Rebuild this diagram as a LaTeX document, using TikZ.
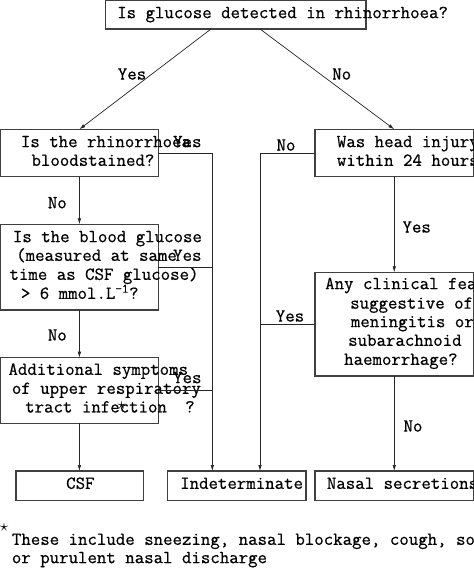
\documentclass[tikz,border=0pt]{standalone}
\usepackage{fontspec}
\newfontfamily\cour{lmmono12-regular.otf}[FakeBold=0.6]
\usetikzlibrary{arrows.meta,positioning,calc}

\begin{document}
\begin{tikzpicture}[x=1pt, y=-1pt,
  box/.style={draw=black!75, line width=1.2pt, anchor=north west,
    inner sep=0pt, outer sep=0pt},
  arr/.style={-{Latex[length=6pt,width=3.6pt]}, line width=0.7pt, draw=black!85},
  ln/.style={line width=0.7pt, draw=black!85},
  txt/.style={anchor=mid west, inner sep=0pt, font=\cour\fontsize{18.35}{19}\selectfont},
  lab/.style={inner sep=0pt, font=\cour\fontsize{18.35}{19}\selectfont}
]
  \useasboundingbox (0,0) rectangle (474,568);

  % boxes
  \node[box, minimum width=260.5pt, minimum height=28.5pt] (glu) at (105.5,0.5) {};
  \node[box, minimum width=157.8pt, minimum height=47.4pt] (blood) at (0.5,129.3) {};
  \node[box, minimum width=157.8pt, minimum height=85.7pt] (bgl) at (0.5,224.3) {};
  \node[box, minimum width=157.8pt, minimum height=65.6pt] (urti) at (0.5,357.7) {};
  \node[box, minimum width=158.5pt, minimum height=47.4pt] (head) at (315,129.3) {};
  \node[box, minimum width=158.5pt, minimum height=103.7pt] (mening) at (315,272.3) {};
  \node[box, minimum width=127.3pt, minimum height=29.7pt] (csf) at (16,471) {};
  \node[box, minimum width=138.7pt, minimum height=29.7pt] (indet) at (167.3,471) {};
  \node[box, minimum width=158.5pt, minimum height=29.7pt] (nasal) at (315,471) {};

  % texts
  \foreach \tx/\ty/\s [count=\i] in {
      117/16/{Is glucose detected in rhinorrhoea?},
      20.7/145/{Is the rhinorrhoea}, 31.3/163.7/{bloodstained?},
      12.7/240/{Is the blood glucose}, 16/258.7/{(measured at same},
      9.3/277.7/{time as CSF glucose)}, 20.7/296.7/{> 6 mmol.L\textsuperscript{-1}?},
      8.3/372.7/{Additional symptoms}, 11.7/391.7/{of upper respiratory},
      25/410.3/{tract infection}, 185/410.3/{?},
      336.7/145/{Was head injury}, 336.7/163.7/{within 24 hours?},
      325/287/{Any clinical features}, 350/306.5/{suggestive of},
      350.7/325/{meningitis or}, 348/343.7/{subarachnoid}, 344/362.7/{haemorrhage?},
      66/486.7/{CSF}, 180/486.7/{Indeterminate}, 326.7/486.7/{Nasal secretions},
      11.7/542.7/{These include sneezing, nasal blockage, cough, sore throat},
      11.7/561/{or purulent nasal discharge}}
    \node[txt] (t\i) at (\tx,\ty) {\s};
  \node[lab] (star1) at (121.7,405) {$\star$};
  \node[lab] (star2) at (4,527) {$\star$};

  % labels
  \node[lab] (yes0) at (132,74) {Yes};
  \node[lab] (no0) at (341.7,74) {No};
  \node[lab, anchor=mid east] (yes1) at (201.7,145) {Yes};
  \node[lab, anchor=mid east] (yes2) at (201.7,258.7) {Yes};
  \node[lab, anchor=mid east] (yes3) at (201.7,381) {Yes};
  \node[lab] (no1) at (57.3,202.7) {No};
  \node[lab] (no2) at (57.3,335) {No};
  \node[lab] (no3) at (286,145) {No};
  \node[lab] (yes4) at (416.7,227) {Yes};
  \node[lab] (yes5) at (290,316) {Yes};
  \node[lab] (no4) at (413,426) {No};

  % connectors
  \coordinate (jl) at ([xshift=45pt]indet.north west);
  \coordinate (jr) at ([xshift=92.7pt]indet.north west);
  \draw[arr] ([xshift=105.5pt]glu.south west) -- (blood.north);
  \draw[arr] ([xshift=154.5pt]glu.south west) -- (head.north);
  \draw[arr] (blood) -- (bgl);
  \draw[arr] (bgl) -- (urti);
  \draw[arr] (urti.south) -- (urti.south |- csf.north);
  \draw[arr] (blood.east) -| (jl);
  \draw[ln] (bgl.east) -- (bgl.east -| jl);
  \draw[ln] (urti.east) -- (urti.east -| jl);
  \draw[arr] (head.west) -| (jr);
  \draw[ln] (mening.west) -- (mening.west -| jr);
  \draw[arr] (head) -- (mening);
  \draw[arr] (mening.south) -- (mening.south |- nasal.north);
\end{tikzpicture}
\end{document}
